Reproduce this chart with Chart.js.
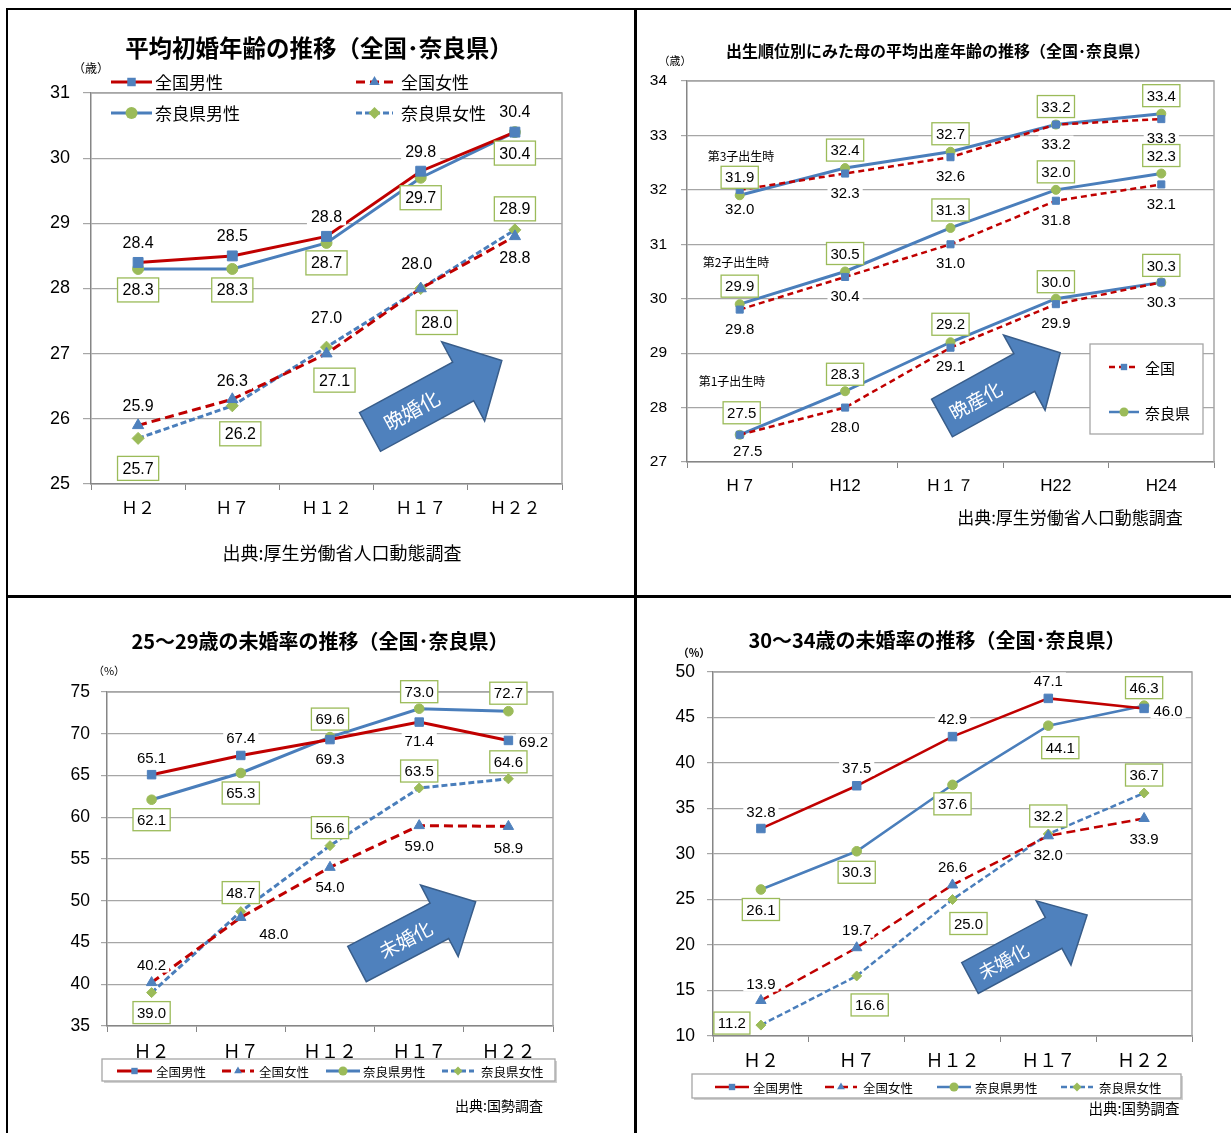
<!DOCTYPE html>
<html>
<head>
<meta charset="utf-8">
<script src="https://cdn.jsdelivr.net/npm/chart.js@4.4.1/dist/chart.umd.min.js"></script>
<style>
body { margin: 0; background: #fff; width: 1231px; height: 1133px; overflow: hidden; position: relative; font-family: "Noto Sans CJK JP", sans-serif; }
.rule { position: absolute; background: #000; }
.t { position: absolute; transform: translate(-50%, -50%); white-space: nowrap; color: #000; line-height: 1; }
</style>
</head>
<body>
<!-- frame -->
<div class="rule" style="left:6px;top:8px;width:2px;height:1125px"></div>
<div class="rule" style="left:6px;top:8px;width:1225px;height:2px"></div>
<div class="rule" style="left:634px;top:8px;width:3px;height:1125px"></div>
<div class="rule" style="left:6px;top:595px;width:1225px;height:3px"></div>

<div id="c1"></div>
<div id="c2"></div>
<div id="c3"></div>
<div id="c4"></div>

<!-- titles, units, sources -->
<div class="t" style="left:319px;top:48px;font-size:23.5px;font-weight:700">平均初婚年齢の推移（全国･奈良県）</div>
<div class="t" style="left:91px;top:68px;font-size:12px">（歳）</div>
<div class="t" style="left:342px;top:552px;font-size:18px">出典:厚生労働省人口動態調査</div>

<div class="t" style="left:938px;top:50px;font-size:16px;font-weight:700">出生順位別にみた母の平均出産年齢の推移（全国･奈良県）</div>
<div class="t" style="left:675px;top:60px;font-size:11px">（歳）</div>
<div class="t" style="left:1070px;top:516px;font-size:17px">出典:厚生労働省人口動態調査</div>
<div class="t" style="left:741px;top:156px;font-size:12px">第3子出生時</div>
<div class="t" style="left:736px;top:262px;font-size:12px">第2子出生時</div>
<div class="t" style="left:732px;top:381px;font-size:12px">第1子出生時</div>

<div class="t" style="left:320px;top:641px;font-size:20px;font-weight:700">25～29歳の未婚率の推移（全国･奈良県）</div>
<div class="t" style="left:109px;top:670px;font-size:11px">（%）</div>
<div class="t" style="left:499px;top:1105px;font-size:14px">出典:国勢調査</div>

<div class="t" style="left:937px;top:640px;font-size:20px;font-weight:700">30～34歳の未婚率の推移（全国･奈良県）</div>
<div class="t" style="left:694px;top:652px;font-size:11px;font-weight:700">（%）</div>
<div class="t" style="left:1134px;top:1108px;font-size:14.5px">出典:国勢調査</div>

<script>
// 平均初婚年齢（歳）
const wedYears = ['Ｈ２', 'Ｈ７', 'Ｈ１２', 'Ｈ１７', 'Ｈ２２'];
const wedZenkokuMale = [28.4, 28.5, 28.8, 29.8, 30.4];
const wedZenkokuFemale = [25.9, 26.3, 27.0, 28.0, 28.8];
const wedNaraMale = [28.3, 28.3, 28.7, 29.7, 30.4];
const wedNaraFemale = [25.7, 26.2, 27.1, 28.0, 28.9];
const wedAxis = { min: 25, max: 31, step: 1 };

// 出生順位別にみた母の平均出産年齢（歳）
const birthYears = ['H 7', 'H12', 'H１７', 'H22', 'H24'];
const birth3Zenkoku = [32.0, 32.3, 32.6, 33.2, 33.3];
const birth3Nara = [31.9, 32.4, 32.7, 33.2, 33.4];
const birth2Zenkoku = [29.8, 30.4, 31.0, 31.8, 32.1];
const birth2Nara = [29.9, 30.5, 31.3, 32.0, 32.3];
const birth1Zenkoku = [27.5, 28.0, 29.1, 29.9, 30.3];
const birth1Nara = [27.5, 28.3, 29.2, 30.0, 30.3];
const birthAxis = { min: 27, max: 34, step: 1 };

// 未婚率（%）
const censusYears = ['Ｈ２', 'Ｈ７', 'Ｈ１２', 'Ｈ１７', 'Ｈ２２'];
const s2529ZenkokuMale = [65.1, 67.4, 69.3, 71.4, 69.2];
const s2529ZenkokuFemale = [40.2, 48.0, 54.0, 59.0, 58.9];
const s2529NaraMale = [62.1, 65.3, 69.6, 73.0, 72.7];
const s2529NaraFemale = [39.0, 48.7, 56.6, 63.5, 64.6];
const s2529Axis = { min: 35, max: 75, step: 5 };

const s3034ZenkokuMale = [32.8, 37.5, 42.9, 47.1, 46.0];
const s3034ZenkokuFemale = [13.9, 19.7, 26.6, 32.0, 33.9];
const s3034NaraMale = [26.1, 30.3, 37.6, 44.1, 46.3];
const s3034NaraFemale = [11.2, 16.6, 25.0, 32.2, 36.7];
const s3034Axis = { min: 10, max: 50, step: 5 };

const RED = '#c00000', BLUE = '#4a7ebb', MARK_BLUE = '#4f81bd', GREEN = '#9bbb59';
const NUM_FONT = '"Liberation Sans Narrow", "Liberation Sans", sans-serif';
const JP_FONT = '"Noto Sans CJK JP", sans-serif';

// line / marker looks, same as the Excel originals
const LOOK = {
    zenkokuMale:   { line: RED,  dash: [],     point: 'rect',     mark: MARK_BLUE, boxed: false },
    zenkokuFemale: { line: RED,  dash: [9, 5], point: 'triangle', mark: MARK_BLUE, boxed: false },
    zenkokuBirth:  { line: RED,  dash: [6, 4], point: 'rect',     mark: MARK_BLUE, boxed: false },
    naraMale:      { line: BLUE, dash: [],     point: 'circle',   mark: GREEN,     boxed: true },
    naraFemale:    { line: BLUE, dash: [6, 3], point: 'rectRot',  mark: GREEN,     boxed: true }
};

function series(label, data, look, lw, r, offsets) {
    const s = LOOK[look];
    return {
        label: label, data: data,
        borderColor: s.line, borderDash: s.dash, borderWidth: lw,
        pointStyle: s.point, pointRadius: r, pointHoverRadius: r,
        pointBackgroundColor: s.mark, pointBorderColor: s.mark, pointBorderWidth: 1,
        tension: 0,
        labelOffsets: offsets, labelBoxed: s.boxed
    };
}

// marker drawn like Chart.js drawPoint
function drawMarker(ctx, style, x, y, r, color) {
    ctx.save();
    ctx.fillStyle = color;
    ctx.beginPath();
    if (style === 'rect') {
        const s = r * Math.SQRT1_2;
        ctx.rect(x - s, y - s, 2 * s, 2 * s);
    } else if (style === 'circle') {
        ctx.arc(x, y, r, 0, Math.PI * 2);
    } else if (style === 'triangle') {
        for (let k = 0; k < 3; k++) {
            const a = k * 2 * Math.PI / 3;
            const px = x + Math.sin(a) * r, py = y - Math.cos(a) * r;
            k === 0 ? ctx.moveTo(px, py) : ctx.lineTo(px, py);
        }
        ctx.closePath();
    } else if (style === 'rectRot') {
        ctx.moveTo(x - r, y); ctx.lineTo(x, y - r); ctx.lineTo(x + r, y); ctx.lineTo(x, y + r);
        ctx.closePath();
    }
    ctx.fill();
    ctx.restore();
}

function drawArrow(ctx, a, box) {
    const L = a.len, s = a.shaft / 2, h = a.head / 2, hl = a.headLen;
    ctx.save();
    ctx.translate(a.x - box.left, a.y - box.top);
    ctx.rotate(a.angle * Math.PI / 180);
    ctx.beginPath();
    ctx.moveTo(0, -s); ctx.lineTo(L - hl, -s); ctx.lineTo(L - hl, -h); ctx.lineTo(L, 0);
    ctx.lineTo(L - hl, h); ctx.lineTo(L - hl, s); ctx.lineTo(0, s);
    ctx.closePath();
    ctx.fillStyle = '#4f81bd';
    ctx.fill();
    ctx.strokeStyle = '#385d8a';
    ctx.lineWidth = 1.5;
    ctx.stroke();
    ctx.fillStyle = '#fff';
    ctx.font = a.font + 'px ' + JP_FONT;
    ctx.textAlign = 'center';
    ctx.textBaseline = 'middle';
    ctx.fillText(a.text, (L - hl) / 2 + a.textShift, 1);
    ctx.restore();
}

function drawLabels(ctx, chart, d, i, vl) {
    const pts = chart.getDatasetMeta(i).data;
    ctx.save();
    ctx.font = vl.size + 'px ' + NUM_FONT;
    ctx.textAlign = 'center';
    ctx.textBaseline = 'middle';
    pts.forEach((p, j) => {
        const off = d.labelOffsets[j];
        const txt = d.data[j].toFixed(1);
        const w = ctx.measureText(txt).width + vl.padX * 2;
        const h = vl.boxH;
        const cx = p.x + off[0], cy = p.y + off[1];
        ctx.fillStyle = '#fff';
        if (d.labelBoxed) {
            ctx.fillRect(cx - w / 2, cy - h / 2, w, h);
            ctx.strokeStyle = GREEN;
            ctx.lineWidth = 1.3;
            ctx.strokeRect(cx - w / 2, cy - h / 2, w, h);
        } else {
            ctx.fillRect(cx - w / 2 + 1, cy - h / 2 + 3, w - 2, h - 6);
        }
        ctx.fillStyle = '#000';
        ctx.fillText(txt, cx, cy + 1);
    });
    ctx.restore();
}

function drawLegend(ctx, chart, lg, box) {
    ctx.save();
    if (lg.frame) {
        const f = lg.frame;
        if (lg.shadow) {
            ctx.fillStyle = '#d0d0d0';
            ctx.fillRect(f.x1 - box.left + 2, f.y1 - box.top + 2, f.x2 - f.x1, f.y2 - f.y1);
        }
        ctx.fillStyle = '#fff';
        ctx.fillRect(f.x1 - box.left, f.y1 - box.top, f.x2 - f.x1, f.y2 - f.y1);
        ctx.strokeStyle = '#a6a6a6';
        ctx.lineWidth = 1.3;
        ctx.strokeRect(f.x1 - box.left, f.y1 - box.top, f.x2 - f.x1, f.y2 - f.y1);
    }
    lg.items.forEach(it => {
        const d = chart.data.datasets[it.ds];
        const y = it.y - box.top, x1 = it.x1 - box.left, x2 = it.x2 - box.left;
        ctx.save();
        ctx.strokeStyle = d.borderColor;
        ctx.lineWidth = lg.lw;
        ctx.setLineDash(d.borderDash || []);
        ctx.beginPath(); ctx.moveTo(x1, y); ctx.lineTo(x2, y); ctx.stroke();
        ctx.restore();
        drawMarker(ctx, d.pointStyle, (x1 + x2) / 2, y, lg.r, d.pointBackgroundColor);
        ctx.fillStyle = '#000';
        ctx.font = lg.size + 'px ' + JP_FONT;
        ctx.textAlign = 'left';
        ctx.textBaseline = 'middle';
        ctx.fillText(it.text || d.label, it.tx - box.left, y + 1);
    });
    ctx.restore();
}

function makeDeco(box, opt) {
    return {
        id: 'deco',
        beforeDatasetsDraw(chart) {
            // top and right edges of the plot area
            const ctx = chart.ctx, a = chart.chartArea;
            ctx.save();
            ctx.strokeStyle = '#a6a6a6';
            ctx.lineWidth = 1.5;
            ctx.beginPath();
            ctx.moveTo(a.left, a.top); ctx.lineTo(a.right, a.top); ctx.lineTo(a.right, a.bottom);
            ctx.stroke();
            ctx.restore();
        },
        afterDatasetsDraw(chart) {
            const ctx = chart.ctx;
            if (opt.arrow) drawArrow(ctx, opt.arrow, box);
            chart.data.datasets.forEach((d, i) => drawLabels(ctx, chart, d, i, opt.valueLabel));
            if (opt.legend) drawLegend(ctx, chart, opt.legend, box);
        }
    };
}

function makeChart(id, box, area, opt) {
    const host = document.getElementById(id);
    host.style.cssText = `position:absolute;left:${box.left}px;top:${box.top}px;width:${box.w}px;height:${box.h}px`;
    const canvas = document.createElement('canvas');
    host.appendChild(canvas);
    const xH = 50;
    return new Chart(canvas, {
        type: 'line',
        data: { labels: opt.labels, datasets: opt.datasets },
        plugins: [makeDeco(box, opt)],
        options: {
            responsive: true,
            maintainAspectRatio: false,
            animation: false,
            layout: {
                padding: {
                    left: 0,
                    top: area.top - box.top,
                    right: box.left + box.w - area.right,
                    bottom: box.top + box.h - area.bottom - xH
                }
            },
            plugins: { legend: { display: false }, tooltip: { enabled: false } },
            scales: {
                x: {
                    offset: true,
                    ticks: { font: { family: opt.xFont, size: opt.xSize }, color: '#000', padding: opt.xPad, autoSkip: false, maxRotation: 0, minRotation: 0 },
                    grid: { drawOnChartArea: false, drawTicks: true, tickLength: 6, color: '#868686', offset: true },
                    border: { color: '#868686', width: 1.5 },
                    afterFit: s => { s.height = xH; }
                },
                y: {
                    min: opt.axis.min, max: opt.axis.max,
                    ticks: { stepSize: opt.axis.step, font: { family: NUM_FONT, size: opt.ySize }, color: '#000', padding: opt.yPad },
                    grid: { color: '#a6a6a6', lineWidth: 1.2, drawTicks: true, tickLength: opt.yTick },
                    border: { color: '#868686', width: 1.5 },
                    afterFit: s => { s.width = area.left - box.left; }
                }
            }
        }
    });
}

// 平均初婚年齢
makeChart('c1', { left: 10, top: 12, w: 622, h: 582 }, { left: 91, top: 93, right: 562, bottom: 484 }, {
    labels: wedYears, axis: wedAxis,
    xFont: JP_FONT, xSize: 17, xPad: 7, ySize: 18, yPad: 13, yTick: 8,
    valueLabel: { size: 16, padX: 5, boxH: 24 },
    datasets: [
        series('全国男性', wedZenkokuMale, 'zenkokuMale', 3, 7, [[0, -20], [0, -20], [0, -20], [0, -20], [0, -21]]),
        series('全国女性', wedZenkokuFemale, 'zenkokuFemale', 3, 6.5, [[0, -20], [0, -19], [0, -36], [-4, -25], [0, 21]]),
        series('奈良県男性', wedNaraMale, 'naraMale', 3, 5.5, [[0, 21], [0, 21], [0, 20], [0, 20], [0, 21]]),
        series('奈良県女性', wedNaraFemale, 'naraFemale', 3, 6, [[0, 30], [8, 28], [8, 33], [16, 34], [0, -21]])
    ],
    legend: {
        lw: 3, r: 6, size: 17,
        items: [
            { ds: 0, x1: 111, x2: 152, y: 82, tx: 155 },
            { ds: 1, x1: 356, x2: 393, y: 82, tx: 401 },
            { ds: 2, x1: 111, x2: 152, y: 113, tx: 155 },
            { ds: 3, x1: 356, x2: 393, y: 113, tx: 401 }
        ]
    },
    arrow: { x: 370, y: 432, angle: -28.5, len: 150, shaft: 44, head: 90, headLen: 44, text: '晩婚化', font: 20, textShift: -6 }
});

// 出生順位別にみた母の平均出産年齢
const zenkokuBirthOffsets = [[0, 19], [0, 19], [0, 19], [0, 19], [0, 19]];
const naraBirthOffsets = [[0, -18], [0, -18], [0, -18], [0, -18], [0, -18]];
makeChart('c2', { left: 638, top: 12, w: 593, h: 582 }, { left: 687, top: 81, right: 1214, bottom: 462 }, {
    labels: birthYears, axis: birthAxis,
    xFont: '"Liberation Sans", sans-serif', xSize: 17, xPad: 8, ySize: 15.5, yPad: 14, yTick: 6,
    valueLabel: { size: 15, padX: 4, boxH: 22 },
    datasets: [
        series('全国', birth3Zenkoku, 'zenkokuBirth', 2.5, 5, zenkokuBirthOffsets),
        series('奈良県', birth3Nara, 'naraMale', 3, 4.5, naraBirthOffsets),
        series('全国', birth2Zenkoku, 'zenkokuBirth', 2.5, 5, zenkokuBirthOffsets),
        series('奈良県', birth2Nara, 'naraMale', 3, 4.5, naraBirthOffsets),
        series('全国', birth1Zenkoku, 'zenkokuBirth', 2.5, 5, [[8, 16], [0, 19], [0, 18], [0, 19], [0, 19]]),
        series('奈良県', birth1Nara, 'naraMale', 3, 4.5, [[2, -22], [0, -17], [0, -18], [0, -17], [0, -17]])
    ],
    legend: {
        lw: 2.5, r: 4.5, size: 15,
        frame: { x1: 1090, y1: 344, x2: 1203, y2: 434 },
        items: [
            { ds: 0, x1: 1109, x2: 1139, y: 367, tx: 1145 },
            { ds: 1, x1: 1109, x2: 1139, y: 412, tx: 1145 }
        ]
    },
    arrow: { x: 942, y: 418, angle: -28.9, len: 135, shaft: 43, head: 86, headLen: 41, text: '晩産化', font: 19, textShift: -9 }
});

// 25～29歳の未婚率
makeChart('c3', { left: 10, top: 600, w: 622, h: 533 }, { left: 107, top: 692, right: 553, bottom: 1026 }, {
    labels: censusYears, axis: s2529Axis,
    xFont: JP_FONT, xSize: 18, xPad: 8, ySize: 17.5, yPad: 11, yTick: 6,
    valueLabel: { size: 15, padX: 4, boxH: 22 },
    datasets: [
        series('全国男性', s2529ZenkokuMale, 'zenkokuMale', 3, 6, [[0, -17], [0, -18], [0, 19], [0, 19], [25, 1]]),
        series('全国女性', s2529ZenkokuFemale, 'zenkokuFemale', 3, 6, [[0, -18], [33, 16], [0, 20], [0, 20], [0, 21]]),
        series('奈良県男性', s2529NaraMale, 'naraMale', 3, 4.8, [[0, 20], [0, 20], [0, -18], [0, -17], [0, -18]]),
        series('奈良県女性', s2529NaraFemale, 'naraFemale', 3, 5, [[0, 20], [0, -19], [0, -18], [0, -17], [0, -17]])
    ],
    legend: {
        lw: 3, r: 4.5, size: 12.5, shadow: true,
        frame: { x1: 102, y1: 1059, x2: 555, y2: 1081 },
        items: [
            { ds: 0, x1: 117, x2: 152, y: 1071, tx: 156 },
            { ds: 1, x1: 222, x2: 254, y: 1071, tx: 259 },
            { ds: 2, x1: 326, x2: 360, y: 1071, tx: 363 },
            { ds: 3, x1: 442, x2: 474, y: 1071, tx: 481 }
        ]
    },
    arrow: { x: 357, y: 964, angle: -27.7, len: 134, shaft: 40, head: 81, headLen: 41, text: '未婚化', font: 19, textShift: 8 }
});

// 30～34歳の未婚率
makeChart('c4', { left: 638, top: 600, w: 593, h: 533 }, { left: 713, top: 672, right: 1192, bottom: 1036 }, {
    labels: censusYears, axis: s3034Axis,
    xFont: JP_FONT, xSize: 18, xPad: 7, ySize: 17.5, yPad: 12, yTick: 6,
    valueLabel: { size: 15, padX: 4, boxH: 22 },
    datasets: [
        series('全国男性', s3034ZenkokuMale, 'zenkokuMale', 2.5, 6, [[0, -17], [0, -18], [0, -18], [0, -18], [24, 2]]),
        series('全国女性', s3034ZenkokuFemale, 'zenkokuFemale', 2.5, 6, [[0, -17], [0, -18], [0, -18], [0, 19], [0, 20]]),
        series('奈良県男性', s3034NaraMale, 'naraMale', 2.5, 4.8, [[0, 20], [0, 21], [0, 19], [12, 22], [0, -18]]),
        series('奈良県女性', s3034NaraFemale, 'naraFemale', 2.5, 5, [[-29, -2], [13, 29], [16, 24], [0, -18], [0, -18]])
    ],
    legend: {
        lw: 2.5, r: 4.5, size: 12.5, shadow: true,
        frame: { x1: 692, y1: 1074, x2: 1181, y2: 1098 },
        items: [
            { ds: 0, x1: 715, x2: 749, y: 1087, tx: 753 },
            { ds: 1, x1: 825, x2: 857, y: 1087, tx: 863 },
            { ds: 2, x1: 937, x2: 971, y: 1087, tx: 975 },
            { ds: 3, x1: 1061, x2: 1093, y: 1087, tx: 1099 }
        ]
    },
    arrow: { x: 970, y: 978, angle: -28.3, len: 133, shaft: 35, head: 73, headLen: 38, text: '未婚化', font: 18, textShift: -10 }
});
</script>
</body>
</html>
